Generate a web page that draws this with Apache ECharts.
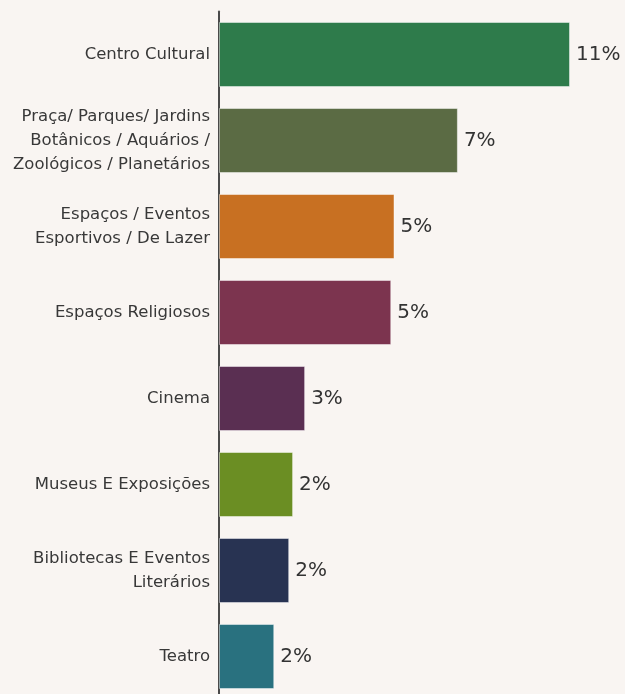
<!DOCTYPE html>
<html>
<head>
<meta charset="utf-8">
<script src="https://cdn.jsdelivr.net/npm/echarts@6/dist/echarts.min.js"></script>
<style>
  html, body { margin: 0; padding: 0; background: #f9f5f2; overflow: hidden; }
  #container { width: 625px; height: 694px; }
</style>
</head>
<body>
<div id="container"></div>
<script>
// categorias (de cima para baixo)
var categories = [
    'Centro Cultural',
    'Praça/ Parques/ Jardins\nBotânicos / Aquários /\nZoológicos / Planetários',
    'Espaços / Eventos\nEsportivos / De Lazer',
    'Espaços Religiosos',
    'Cinema',
    'Museus E Exposições',
    'Bibliotecas E Eventos\nLiterários',
    'Teatro'
];
// percentuais estimados a partir da imagem
var values = [10.8, 7.35, 5.4, 5.3, 2.65, 2.28, 2.16, 1.7];
var colors = ['#2e7b4b', '#5b6b44', '#c87022', '#7c344f', '#5a2f52', '#6b8e23', '#283352', '#29717f'];

var dom = document.getElementById('container');
var myChart = echarts.init(dom);

var seriesData = [];
for (var i = 0; i < values.length; i++) {
    seriesData.push({
        value: values[i],
        itemStyle: { color: colors[i] }
    });
}

var option = {
    backgroundColor: '#f9f5f2',
    animation: false,
    grid: {
        left: 219,
        top: 11.5,
        width: 390,
        height: 688,
        containLabel: false,
        outerBoundsMode: 'none'
    },
    xAxis: {
        type: 'value',
        min: 0,
        max: 12,
        show: false
    },
    yAxis: {
        type: 'category',
        inverse: true,
        data: categories,
        axisLine: { show: true, lineStyle: { color: '#4a4a4a', width: 2 } },
        axisTick: { show: false },
        axisLabel: {
            margin: 9,
            fontFamily: 'DejaVu Sans',
            fontSize: 16.5,
            lineHeight: 24,
            color: '#383838'
        }
    },
    series: [{
        type: 'bar',
        data: seriesData,
        barWidth: 65,
        itemStyle: {
            borderColor: 'rgba(255,255,255,0.45)',
            borderWidth: 1
        },
        label: {
            show: true,
            position: 'right',
            distance: 6,
            fontFamily: 'DejaVu Sans',
            fontSize: 20,
            color: '#333',
            formatter: function (p) { return Math.round(p.value) + '%'; }
        }
    }]
};

myChart.setOption(option, true);
</script>
</body>
</html>
